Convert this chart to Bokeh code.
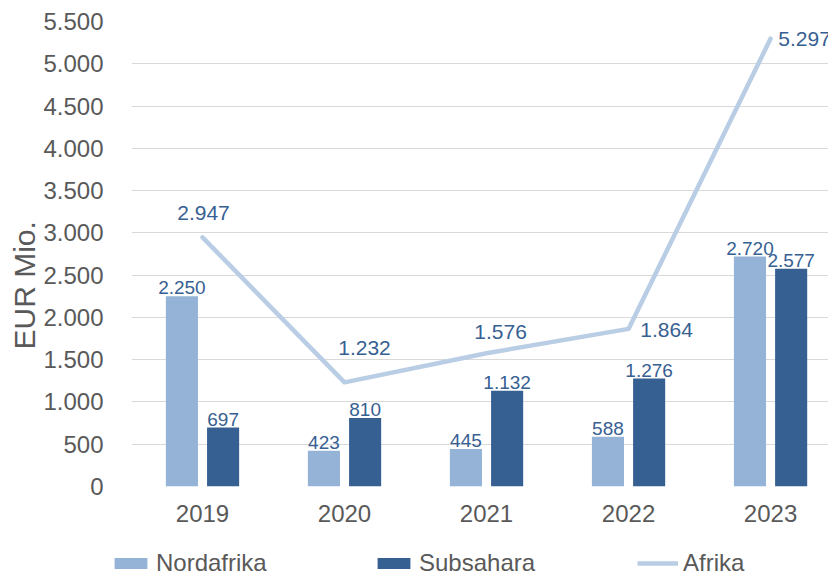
from bokeh.plotting import figure
from bokeh.layouts import column
from bokeh.models import (ColumnDataSource, Range1d, FixedTicker, CustomJSTickFormatter,
                          Legend, LegendItem, Title)
from bokeh.transform import dodge
from bokeh.embed import file_html
from bokeh.resources import INLINE

# ---- data ----
years = ["2019", "2020", "2021", "2022", "2023"]
nordafrika = [2250, 423, 445, 588, 2720]
subsahara = [697, 810, 1132, 1276, 2577]
afrika = [2947, 1232, 1576, 1864, 5297]
y_ticks = [0, 500, 1000, 1500, 2000, 2500, 3000, 3500, 4000, 4500, 5000, 5500]


def de(v):
    return f"{v:,}".replace(",", ".")


# ---- layout of the Afrika value labels (screen px offsets) ----
afrika_label_dx = [1, 20, 14, 38, 34]
afrika_label_dy = [-24, -34, -21, 1, 0]

FONT = "Liberation Sans"
C_NORD = "#95B3D7"
C_SUB = "#376092"
C_AFR = "#B9CDE5"
C_LBL = "#376092"
C_TXT = "#595959"

idx = list(range(len(years)))
src = ColumnDataSource(dict(
    x=idx, nord=nordafrika, sub=subsahara, afr=afrika,
    nord_lbl=[de(v) for v in nordafrika],
    sub_lbl=[de(v) for v in subsahara],
    afr_lbl=[de(v) for v in afrika],
    dx=afrika_label_dx, dy=afrika_label_dy,
))

p = figure(width=828, height=530, output_backend="svg", toolbar_location=None,
           x_range=Range1d(-0.5, 4.408), y_range=Range1d(0, 5500),
           min_border_left=131, min_border_right=0, min_border_top=21,
           min_border_bottom=44)
p.outline_line_color = None
p.background_fill_color = "white"
p.border_fill_color = "white"

# bars
off = 0.145
bw = 0.226
p.vbar(x=dodge("x", -off), top="nord", width=bw, source=src,
       fill_color=C_NORD, line_color=None)
p.vbar(x=dodge("x", off), top="sub", width=bw, source=src,
       fill_color=C_SUB, line_color=None)

# line
p.line(x="x", y="afr", source=src, line_color=C_AFR, line_width=4.5,
       line_join="round", line_cap="round")

# bar labels
p.text(x=dodge("x", -off), y="nord", text="nord_lbl", source=src,
       text_align="center", text_baseline="bottom", y_offset=-2,
       text_font={"value": FONT}, text_font_size={"value": "19px"}, text_color=C_LBL)
p.text(x=dodge("x", off), y="sub", text="sub_lbl", source=src,
       text_align="center", text_baseline="bottom", y_offset=-2,
       text_font={"value": FONT}, text_font_size={"value": "19px"}, text_color=C_LBL)
# line labels
p.text(x="x", y="afr", text="afr_lbl", source=src,
       x_offset="dx", y_offset="dy",
       text_align="center", text_baseline="middle",
       text_font={"value": FONT}, text_font_size={"value": "21px"}, text_color=C_LBL)

# axes
p.xaxis.ticker = FixedTicker(ticks=idx)
p.xaxis.formatter = CustomJSTickFormatter(args=dict(labels=years),
                                          code="return labels[Math.round(tick)] || '';")
p.yaxis.ticker = FixedTicker(ticks=y_ticks)
p.yaxis.formatter = CustomJSTickFormatter(
    code="return tick.toFixed(0).replace(/\\B(?=(\\d{3})+(?!\\d))/g, '.');")
for ax in (p.xaxis, p.yaxis):
    ax.axis_line_color = None
    ax.major_tick_line_color = None
    ax.minor_tick_line_color = None
    ax.major_label_text_font = FONT
    ax.major_label_text_font_size = "24px"
    ax.major_label_text_color = C_TXT
p.yaxis.major_label_standoff = 22
p.xaxis.major_label_standoff = 12

p.xgrid.grid_line_color = None
p.ygrid.ticker = FixedTicker(ticks=y_ticks)
p.ygrid.grid_line_color = "#D9D9D9"
p.ygrid.grid_line_width = 1

# y axis title
p.add_layout(Title(text="EUR Mio.", align="left", offset=137, standoff=0,
                   text_font=FONT, text_font_size="30px", text_font_style="normal",
                   text_color=C_TXT), "left")

# ---- legend strip below the chart ----
pl = figure(width=828, height=45, output_backend="svg", toolbar_location=None,
            x_range=Range1d(0, 828), y_range=Range1d(0, 45),
            x_axis_location=None, y_axis_location=None,
            min_border=0, min_border_left=0, min_border_right=0,
            min_border_top=0, min_border_bottom=0)
pl.grid.visible = False
pl.outline_line_color = None
pl.border_fill_color = "white"
pl.background_fill_color = "white"

shift = 135
if "frame_align" in pl.properties():
    pl.frame_align = False
    p.frame_align = False
    shift = 0

dummy = ColumnDataSource(dict(x=[-100, -99], top=[-100, -99]))
g_nord = pl.vbar(x="x", top="top", width=0.5, source=dummy, fill_color=C_NORD, line_color=None)
g_sub = pl.vbar(x="x", top="top", width=0.5, source=dummy, fill_color=C_SUB, line_color=None)
g_afr = pl.line(x="x", y="top", source=dummy, line_color=C_AFR, line_width=4.5)

for lbl, rend, xloc in (("Nordafrika", g_nord, 110), ("Subsahara", g_sub, 373),
                        ("Afrika", g_afr, 637)):
    pl.add_layout(Legend(items=[LegendItem(label=lbl, renderers=[rend])],
                         location=(xloc - shift, -2), orientation="horizontal",
                         padding=0, margin=0, spacing=0,
                         border_line_color=None, background_fill_alpha=0,
                         glyph_width=41, glyph_height=14, label_standoff=5,
                         label_text_font=FONT, label_text_font_size="24px",
                         label_text_color=C_TXT))

layout = column(p, pl, spacing=0)
open("out.html", "w").write(file_html(layout, INLINE))
